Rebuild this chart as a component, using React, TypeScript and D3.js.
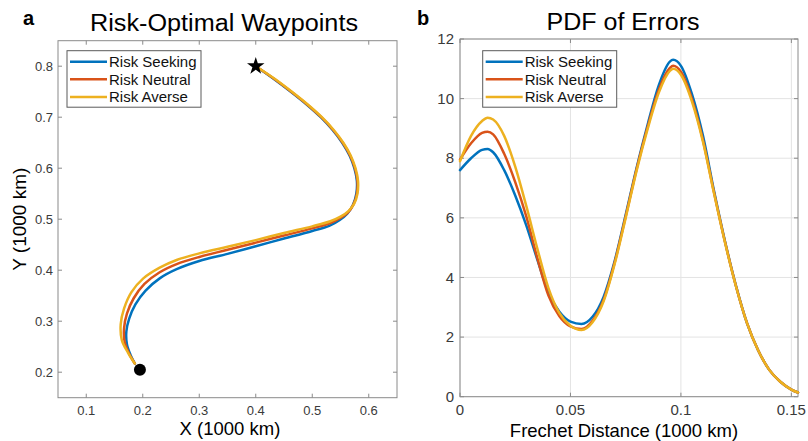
import React from "react";
import * as d3 from "d3";

// ---- series metadata ----
const seriesNames = ["Risk Seeking", "Risk Neutral", "Risk Averse"];
const seriesColors = ["#0072BD", "#D95319", "#EDB120"];

// ---- panel a: waypoint trajectories (x, y in 1000 km) ----
const seekingX = [0.4, 0.432, 0.462, 0.49, 0.515, 0.536, 0.553, 0.566, 0.5745, 0.579, 0.578, 0.572, 0.562, 0.548, 0.53, 0.5, 0.45, 0.4, 0.35, 0.3, 0.26, 0.23, 0.205, 0.187, 0.176, 0.171, 0.172, 0.178, 0.186];
const seekingY = [0.8, 0.775, 0.75, 0.725, 0.7, 0.675, 0.65, 0.625, 0.6, 0.575, 0.55, 0.528, 0.511, 0.498, 0.487, 0.477, 0.462, 0.447, 0.432, 0.418, 0.402, 0.384, 0.36, 0.333, 0.305, 0.28, 0.255, 0.235, 0.217];
const neutralX = [0.4, 0.433, 0.463, 0.491, 0.516, 0.537, 0.554, 0.567, 0.5755, 0.58, 0.579, 0.573, 0.563, 0.549, 0.531, 0.5, 0.45, 0.4, 0.35, 0.3, 0.26, 0.23, 0.203, 0.184, 0.172, 0.167, 0.168, 0.176, 0.186];
const neutralY = [0.8, 0.775, 0.75, 0.725, 0.7, 0.675, 0.65, 0.625, 0.6, 0.575, 0.55, 0.529, 0.513, 0.502, 0.492, 0.482, 0.468, 0.454, 0.44, 0.426, 0.412, 0.396, 0.373, 0.345, 0.315, 0.287, 0.259, 0.236, 0.217];
const averseX = [0.4, 0.434, 0.464, 0.492, 0.517, 0.538, 0.555, 0.568, 0.5765, 0.581, 0.58, 0.574, 0.564, 0.55, 0.532, 0.5, 0.45, 0.4, 0.35, 0.3, 0.26, 0.23, 0.201, 0.18, 0.167, 0.161, 0.163, 0.174, 0.186];
const averseY = [0.8, 0.775, 0.75, 0.725, 0.7, 0.675, 0.65, 0.625, 0.6, 0.575, 0.55, 0.53, 0.516, 0.505, 0.496, 0.486, 0.473, 0.459, 0.446, 0.433, 0.42, 0.405, 0.384, 0.357, 0.325, 0.294, 0.263, 0.238, 0.217];
const goalPoint = [0.4, 0.8];
const startPoint = [0.195, 0.205];
const wpXTicks = [0.1, 0.2, 0.3, 0.4, 0.5, 0.6];
const wpYTicks = [0.2, 0.3, 0.4, 0.5, 0.6, 0.7, 0.8];

// ---- panel b: error PDFs ----
const pdfX = [0, 0.005, 0.01, 0.0125, 0.015, 0.02, 0.025, 0.03, 0.035, 0.04, 0.045, 0.05, 0.055, 0.06, 0.065, 0.07, 0.075, 0.08, 0.085, 0.09, 0.095, 0.0965, 0.1, 0.105, 0.11, 0.115, 0.12, 0.125, 0.13, 0.135, 0.14, 0.145, 0.15, 0.153];
const pdfSeeking = [7.6, 8.0, 8.28, 8.31, 8.2, 7.6, 6.75, 5.75, 4.6, 3.5, 2.85, 2.52, 2.44, 2.68, 3.35, 4.55, 6.1, 7.7, 9.15, 10.45, 11.24, 11.3, 11.1, 10.15, 8.75, 6.9, 5.2, 3.7, 2.45, 1.55, 0.9, 0.5, 0.24, 0.14];
const pdfNeutral = [7.95, 8.5, 8.85, 8.89, 8.8, 8.15, 7.2, 6.05, 4.65, 3.4, 2.7, 2.36, 2.27, 2.55, 3.25, 4.5, 6.05, 7.65, 9.07, 10.3, 11.03, 11.1, 10.9, 9.98, 8.6, 6.85, 5.18, 3.69, 2.45, 1.55, 0.9, 0.5, 0.24, 0.14];
const pdfAverse = [7.9, 8.75, 9.25, 9.36, 9.3, 8.75, 7.72, 6.4, 4.97, 3.65, 2.8, 2.38, 2.24, 2.5, 3.2, 4.45, 6.0, 7.6, 9.0, 10.2, 10.93, 11.0, 10.8, 9.9, 8.55, 6.82, 5.16, 3.68, 2.45, 1.55, 0.9, 0.5, 0.24, 0.14];
const pdfXTicks = [0, 0.05, 0.1, 0.15];
const pdfYTicks = [0, 2, 4, 6, 8, 10, 12];

const FONT = "'Liberation Sans', Arial, Helvetica, sans-serif";
const AXIS = "#8a8a8a";
const TICKTXT = "#3a3a3a";
const TICKLEN = 4;

type Box = { l: number; r: number; t: number; b: number };

function Legend({ x, y }: { x: number; y: number }) {
  const rowH = 17.6;
  return (
    <g transform={`translate(${x},${y})`}>
      <rect x={0} y={0} width={134} height={56.5} fill="#fff" stroke="#5a5a5a" strokeWidth={1} />
      {seriesNames.map((name, i) => (
        <g key={name} transform={`translate(0,${11 + i * rowH})`}>
          <line x1={3} x2={40} y1={0} y2={0} stroke={seriesColors[i]} strokeWidth={2.5} />
          <text x={42} y={0} dy="0.35em" fontSize={15} fontFamily={FONT} fill="#111">{name}</text>
        </g>
      ))}
    </g>
  );
}

function Frame({ box, xs, ys, xTicks, yTicks, grid, fmtX, fmtY, tickFont, xLabelDy, yLabelGap }: any) {
  return (
    <g>
      {grid && xTicks.map((t: number) => (
        <line key={"gx" + t} x1={xs(t)} x2={xs(t)} y1={box.t} y2={box.b} stroke="#e3e3e3" strokeWidth={1} />
      ))}
      {grid && yTicks.map((t: number) => (
        <line key={"gy" + t} x1={box.l} x2={box.r} y1={ys(t)} y2={ys(t)} stroke="#e3e3e3" strokeWidth={1} />
      ))}
      <rect x={box.l} y={box.t} width={box.r - box.l} height={box.b - box.t} fill="none" stroke={AXIS} strokeWidth={1} />
      {xTicks.map((t: number) => (
        <g key={"tx" + t}>
          <line x1={xs(t)} x2={xs(t)} y1={box.b} y2={box.b - TICKLEN} stroke={AXIS} />
          <line x1={xs(t)} x2={xs(t)} y1={box.t} y2={box.t + TICKLEN} stroke={AXIS} />
          <text x={xs(t)} y={box.b + xLabelDy} dy="0.35em" textAnchor="middle" fontSize={tickFont} fontFamily={FONT} fill={TICKTXT}>{fmtX(t)}</text>
        </g>
      ))}
      {yTicks.map((t: number) => (
        <g key={"ty" + t}>
          <line x1={box.l} x2={box.l + TICKLEN} y1={ys(t)} y2={ys(t)} stroke={AXIS} />
          <line x1={box.r} x2={box.r - TICKLEN} y1={ys(t)} y2={ys(t)} stroke={AXIS} />
          <text x={box.l - yLabelGap} y={ys(t)} dy="0.35em" textAnchor="end" fontSize={tickFont} fontFamily={FONT} fill={TICKTXT}>{fmtY(t)}</text>
        </g>
      ))}
    </g>
  );
}

export default function App() {
  // panel a
  const boxA: Box = { l: 58, r: 397, t: 40.7, b: 397.7 };
  const xA = d3.scaleLinear().domain([0.05, 0.65]).range([boxA.l, boxA.r]);
  const yA = d3.scaleLinear().domain([0.15, 0.85]).range([boxA.b, boxA.t]);
  const pathA = d3.line<[number, number]>().x((d) => xA(d[0])).y((d) => yA(d[1])).curve(d3.curveCatmullRom.alpha(0.5));
  const tracks = [
    d3.zip(seekingX, seekingY),
    d3.zip(neutralX, neutralY),
    d3.zip(averseX, averseY),
  ] as [number, number][][];

  // panel b
  const boxB: Box = { l: 460, r: 798, t: 39, b: 396.7 };
  const xB = d3.scaleLinear().domain([0, 0.153]).range([boxB.l, boxB.r]);
  const yB = d3.scaleLinear().domain([0, 12]).range([boxB.b, boxB.t]);
  const pathB = d3.line<[number, number]>().x((d) => xB(d[0])).y((d) => yB(d[1])).curve(d3.curveMonotoneX);
  const pdfs = [pdfSeeking, pdfNeutral, pdfAverse].map((ys) => d3.zip(pdfX, ys)) as [number, number][][];

  const star = d3.symbol().type(d3.symbolStar).size(95)();

  return (
    <svg width={808} height={441} style={{ position: "absolute", left: 0, top: 0, background: "#fff" }}>
      {/* ---- panel a ---- */}
      <Frame box={boxA} xs={xA} ys={yA} xTicks={wpXTicks} yTicks={wpYTicks} grid={false}
        fmtX={(t: number) => d3.format(".1f")(t)} fmtY={(t: number) => d3.format(".1f")(t)}
        tickFont={13} xLabelDy={12.5} yLabelGap={5} />
      <clipPath id="clipA"><rect x={boxA.l} y={boxA.t} width={boxA.r - boxA.l} height={boxA.b - boxA.t} /></clipPath>
      <g clipPath="url(#clipA)">
        {tracks.map((pts, i) => (
          <path key={i} d={pathA(pts) || ""} fill="none" stroke={seriesColors[i]} strokeWidth={2.5} strokeLinecap="round" />
        ))}
      </g>
      <path d={star || ""} transform={`translate(${xA(goalPoint[0])},${yA(goalPoint[1])})`} fill="#000" />
      <circle cx={xA(startPoint[0])} cy={yA(startPoint[1])} r={6} fill="#000" />
      <Legend x={67} y={50.7} />
      <text x={224} y={31} textAnchor="middle" fontSize={23} textLength={268} lengthAdjust="spacingAndGlyphs" fontFamily={FONT} fill="#000">Risk-Optimal Waypoints</text>
      <text x={23} y={25} fontSize={20} fontWeight="bold" fontFamily={FONT} fill="#000">a</text>
      <text x={230} y={435} textAnchor="middle" fontSize={18.5} fontFamily={FONT} fill="#000">X (1000 km)</text>
      <text transform={`translate(25.5,${(boxA.t + boxA.b) / 2}) rotate(-90)`} textAnchor="middle" fontSize={19} fontFamily={FONT} fill="#000">Y (1000 km)</text>

      {/* ---- panel b ---- */}
      <Frame box={boxB} xs={xB} ys={yB} xTicks={pdfXTicks} yTicks={pdfYTicks} grid={true}
        fmtX={(t: number) => String(t)} fmtY={(t: number) => String(t)}
        tickFont={15} xLabelDy={12.8} yLabelGap={6} />
      <g>
        {pdfs.map((pts, i) => (
          <path key={i} d={pathB(pts) || ""} fill="none" stroke={seriesColors[i]} strokeWidth={2.5} strokeLinecap="round" />
        ))}
      </g>
      <Legend x={482.7} y={50.7} />
      <text x={623} y={30} textAnchor="middle" fontSize={23} textLength={153} lengthAdjust="spacingAndGlyphs" fontFamily={FONT} fill="#000">PDF of Errors</text>
      <text x={417} y={25} fontSize={20} fontWeight="bold" fontFamily={FONT} fill="#000">b</text>
      <text x={624} y={437} textAnchor="middle" fontSize={18.5} fontFamily={FONT} fill="#000">Frechet Distance (1000 km)</text>
    </svg>
  );
}
